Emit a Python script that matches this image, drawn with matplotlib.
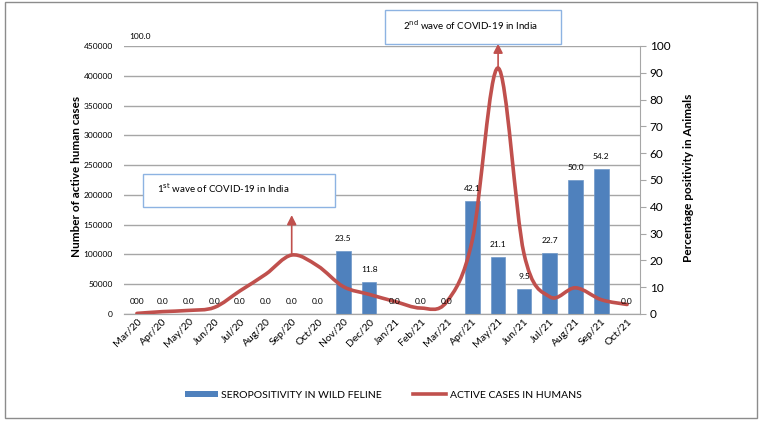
import numpy as np
import matplotlib
matplotlib.use("Agg")
import matplotlib.pyplot as plt
from matplotlib.path import Path
from matplotlib.patches import PathPatch, Rectangle
from matplotlib.lines import Line2D

plt.rcParams["font.family"] = ["Lato", "DejaVu Sans"]

months = ["Mar/20", "Apr/20", "May/20", "Jun/20", "Jul/20", "Aug/20", "Sep/20",
          "Oct/20", "Nov/20", "Dec/20", "Jan/21", "Feb/21", "Mar/21", "Apr/21",
          "May/21", "Jun/21", "Jul/21", "Aug/21", "Sep/21", "Oct/21"]

# seropositivity in wild feline (%), right axis
seropositivity = [0.0, 0.0, 0.0, 0.0, 0.0, 0.0, 0.0, 0.0, 23.5, 11.8,
                  0.0, 0.0, 0.0, 42.1, 21.1, 9.5, 22.7, 50.0, 54.2, 0.0]

# active cases in humans, left axis
active_cases = [1000, 4000, 6000, 11000, 39000, 67000, 99000, 81000, 46000, 33000,
                21000, 10000, 20000, 124000, 413000, 102000, 29000, 44000, 24000, 16000]

# labels as printed in the original: overlapped one at the first month, stray one above it
first_label = "000"
stray_value = 100.0

BLUE = "#4F81BD"
RED = "#C0504D"
GRID = "#A6A6A6"
BOX = "#8DB3E2"

W, H = 762, 424
fig = plt.figure(figsize=(W / 100, H / 100), dpi=100)


def fx(px):
    return px / W


def fy(py):
    return 1 - py / H


ax_left, ax_right = 124, 640
ax_top, ax_bot = 46, 314
ax = fig.add_axes([fx(ax_left), fy(ax_bot), fx(ax_right - ax_left), (ax_bot - ax_top) / H])
ax2 = ax.twinx()

n = len(months)
x = np.arange(n)

ax.set_xlim(-0.5, n - 0.5)
ax.set_ylim(0, 450000)
ax.set_yticks(np.arange(0, 450001, 50000))
ax.yaxis.grid(True, color=GRID, lw=1.0)
ax.set_axisbelow(True)
ax2.set_ylim(0, 100)
ax2.set_yticks(np.arange(0, 101, 10))

for a in (ax, ax2):
    for s in ("top", "left"):
        a.spines[s].set_visible(False)
ax.spines["right"].set_visible(False)
ax2.spines["bottom"].set_color(GRID)
ax2.spines["right"].set_color(GRID)
ax.spines["bottom"].set_color(GRID)

ax.tick_params(axis="y", length=0, labelsize=6, pad=8)
ax.tick_params(axis="x", length=0, labelsize=7.5, pad=2)
ax2.tick_params(axis="y", length=4, color=GRID, labelsize=8.5, pad=3)

ax.set_xticks(x)
ax.set_xticklabels(months, rotation=45, ha="right", rotation_mode="anchor")

# bars on the percentage axis
ax2.bar(x, seropositivity, width=0.56, color=BLUE, edgecolor="#6F97C8", lw=0.5, zorder=2)
for i, v in enumerate(seropositivity):
    txt = first_label if i == 0 else f"{v:.1f}"
    ax2.annotate(txt, (i, v), xytext=(0, 9), textcoords="offset points",
                 ha="center", va="center", fontsize=6, zorder=5)
ax2.annotate(f"{stray_value:.1f}", (0, stray_value), xytext=(2, 7), textcoords="offset points",
             ha="center", va="center", fontsize=6, zorder=5)

# smoothed line (Excel style bezier) on the cases axis
pts = np.column_stack([x, active_cases]).astype(float)
verts = [pts[0]]
codes = [Path.MOVETO]
for i in range(n - 1):
    p0 = pts[i - 1] if i > 0 else pts[i]
    p1, p2 = pts[i], pts[i + 1]
    p3 = pts[i + 2] if i + 2 < n else pts[i + 1]
    c1 = p1 + (p2 - p0) / 6
    c2 = p2 - (p3 - p1) / 6
    verts += [c1, c2, p2]
    codes += [Path.CURVE4] * 3
ax2.add_patch(PathPatch(Path(verts, codes), fill=False, edgecolor=RED, lw=2.6,
                        capstyle="round", transform=ax.transData, zorder=4))

# arrows from the wave peaks up to the text boxes
arrow = dict(arrowstyle="-|>,head_length=0.55,head_width=0.28", color=RED, lw=1.2,
             shrinkA=0, shrinkB=0)
ax2.annotate("", xy=(6, 166000), xytext=(6, active_cases[6]), xycoords=ax.transData,
             textcoords=ax.transData, arrowprops=arrow)
ax2.annotate("", xy=(14, 454000), xytext=(14, active_cases[14]), xycoords=ax.transData,
             textcoords=ax.transData, annotation_clip=False, arrowprops=arrow)

# text boxes
for (x0, y0, x1, y1), num, ord_, tx, ty in [((143, 174, 335, 207), "1", "st", 157, 188),
                                            ((385, 10, 561, 44), "2", "nd", 403, 25)]:
    fig.patches.append(Rectangle((fx(x0), fy(y1)), fx(x1 - x0), (y1 - y0) / H,
                                 transform=fig.transFigure, facecolor="white",
                                 edgecolor=BOX, lw=1.0, zorder=10))
    fig.text(fx(tx), fy(ty), rf"{num}$^{{\mathrm{{{ord_}}}}}$ wave of COVID-19 in India",
             fontsize=7, ha="left", va="center", zorder=11)

# axis titles
fig.text(fx(76), fy(176), "Number of active human cases", rotation=90, fontsize=8.5,
         fontweight="bold", ha="center", va="center")
fig.text(fx(688), fy(178), "Percentage positivity in Animals", rotation=90, fontsize=8.5,
         fontweight="bold", ha="center", va="center")

# legend
handles = [Rectangle((0, 0), 1, 1, facecolor=BLUE, edgecolor="none"),
           Line2D([0], [0], color=RED, lw=2.6)]
fig.legend(handles, ["SEROPOSITIVITY IN WILD FELINE", "ACTIVE CASES IN HUMANS"],
           loc="center", bbox_to_anchor=(fx(383), fy(395)), ncol=2, frameon=False,
           fontsize=7.5, handlelength=3.2, handleheight=0.6, handletextpad=0.3,
           columnspacing=3.0)

# outer border
fig.patches.append(Rectangle((fx(5), fy(418)), fx(752), 416 / H, transform=fig.transFigure,
                             facecolor="none", edgecolor="#8C8C8C", lw=1.0))

fig.savefig("out.png", dpi=100)
